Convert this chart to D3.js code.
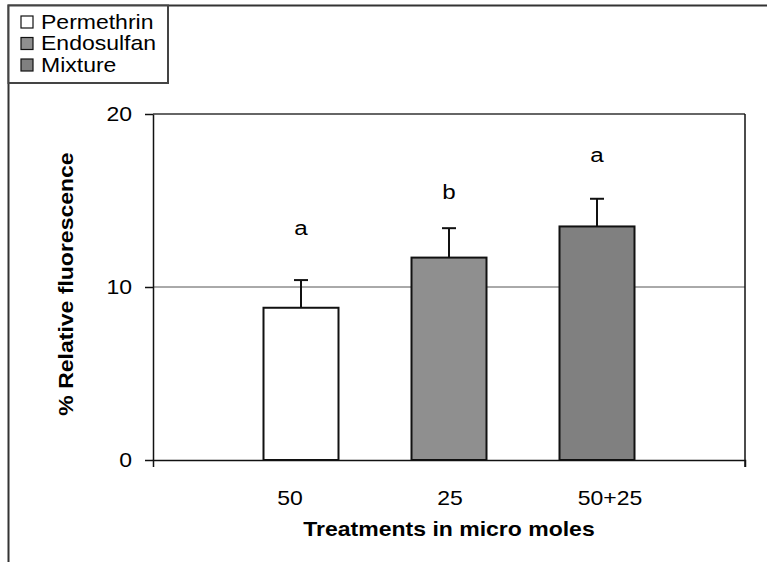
<!DOCTYPE html>
<html>
<head>
<meta charset="utf-8">
<script src="https://cdn.jsdelivr.net/npm/d3@7"></script>
<style>
  body { margin: 0; background: #fff; }
  svg { display: block; font-family: "Liberation Sans", Arial, sans-serif; }
</style>
</head>
<body>
<div class="vis-barchart"></div>
<script>
// data
const treatments = ['Permethrin', 'Endosulfan', 'Mixture'];
const doses = ['50', '25', '50+25'];
const means = [8.8, 11.7, 13.5];
const errors = [1.6, 1.7, 1.6];
const letters = ['a', 'b', 'a'];
const letterLevels = [13.0, 15.1, 17.2];
const yTicks = [0, 10, 20];

const W = 767, H = 562;
const sx = 1.15; // the original text is drawn a bit wide

const data = treatments.map((t, i) => ({
    name: t, dose: doses[i], mean: means[i], err: errors[i],
    letter: letters[i], level: letterLevels[i]
}));

const svg = d3.select('.vis-barchart').append('svg')
    .attr('width', W)
    .attr('height', H);

const color = d3.scaleOrdinal()
    .domain(treatments)
    .range(['#ffffff', '#8f8f8f', '#808080']);

// plot area
const plot = {left: 153, right: 745, top: 114, bottom: 460};

const x = d3.scalePoint()
    .domain(treatments)
    .range([plot.left, plot.right])
    .padding(1);

// dose labels sit on their own spacing under the bars
const xLab = d3.scalePoint()
    .domain(doses)
    .range([130, 770])
    .padding(1);

const y = d3.scaleLinear()
    .domain([0, 20])
    .range([plot.bottom, plot.top]);

const barW = 75;

// helper for horizontally stretched text
function wideText(sel, px, py, rot) {
    return sel.attr('x', 0).attr('y', 0)
        .attr('transform', `translate(${px},${py})` + (rot ? ` rotate(${rot})` : '') + ` scale(${sx},1)`);
}

// outer chart frame (top and left edges visible)
svg.append('path')
    .attr('d', `M8.5,${H}V5.5H${W}`)
    .attr('fill', 'none')
    .attr('stroke', '#333')
    .attr('stroke-width', 2);

// gridlines
svg.append('g')
    .selectAll('line')
    .data(yTicks.filter(d => d > 0))
    .join('line')
    .attr('x1', plot.left).attr('x2', plot.right)
    .attr('y1', d => y(d)).attr('y2', d => y(d))
    .attr('stroke', d => d === 20 ? '#333' : '#555')
    .attr('stroke-width', d => d === 20 ? 1.5 : 1);

// right border of the plot area
svg.append('line')
    .attr('x1', plot.right).attr('x2', plot.right)
    .attr('y1', y(20)).attr('y2', plot.bottom + 7)
    .attr('stroke', '#111')
    .attr('stroke-width', 1.5);

// bars
svg.selectAll('.bar')
    .data(data)
    .join('rect')
    .attr('class', 'bar')
    .attr('x', d => x(d.name) - barW / 2)
    .attr('width', barW)
    .attr('y', d => y(d.mean))
    .attr('height', d => y(0) - y(d.mean))
    .attr('fill', d => color(d.name))
    .attr('stroke', '#111')
    .attr('stroke-width', 2);

// error bars (upper half only)
const eb = svg.append('g').attr('stroke', '#111').attr('stroke-width', 2);
eb.selectAll('.stem')
    .data(data)
    .join('line')
    .attr('class', 'stem')
    .attr('x1', d => x(d.name)).attr('x2', d => x(d.name))
    .attr('y1', d => y(d.mean)).attr('y2', d => y(d.mean + d.err));
eb.selectAll('.cap')
    .data(data)
    .join('line')
    .attr('class', 'cap')
    .attr('x1', d => x(d.name) - 7).attr('x2', d => x(d.name) + 7)
    .attr('y1', d => y(d.mean + d.err)).attr('y2', d => y(d.mean + d.err));

// significance letters
svg.selectAll('.letter')
    .data(data)
    .join('text')
    .attr('class', 'letter')
    .attr('text-anchor', 'middle')
    .style('font-size', '21px')
    .text(d => d.letter)
    .each(function(d) { wideText(d3.select(this), x(d.name), y(d.level)); });

// x axis: only end ticks like the original
svg.append('g')
    .attr('transform', `translate(0,${plot.bottom})`)
    .call(d3.axisBottom(x).tickValues([]).tickSizeOuter(7))
    .call(g => g.select('.domain').attr('stroke', '#111').attr('stroke-width', 1.5));

// y axis
const yAxis = svg.append('g')
    .attr('transform', `translate(${plot.left},0)`)
    .call(d3.axisLeft(y).tickValues(yTicks).tickSize(8).tickSizeOuter(0).tickPadding(13));
yAxis.attr('font-family', null).attr('font-size', null);
yAxis.select('.domain').attr('stroke', '#111').attr('stroke-width', 1.5);
yAxis.selectAll('.tick line').attr('stroke', '#111').attr('stroke-width', 1.5);
yAxis.selectAll('.tick text')
    .style('font-size', '20px')
    .attr('fill', '#000')
    .attr('dy', null)
    .attr('dominant-baseline', 'central')
    .each(function() {
        const t = d3.select(this);
        const px = +t.attr('x');
        wideText(t, px, 0);
    });

// dose labels
svg.selectAll('.dose')
    .data(data)
    .join('text')
    .attr('class', 'dose')
    .attr('text-anchor', 'middle')
    .style('font-size', '20px')
    .text(d => d.dose)
    .each(function(d) { wideText(d3.select(this), xLab(d.dose), 505); });

// axis titles
svg.append('text')
    .attr('text-anchor', 'middle')
    .style('font-size', '20px')
    .style('font-weight', 'bold')
    .text('Treatments in micro moles')
    .call(wideText, (plot.left + plot.right) / 2, 536);

svg.append('text')
    .attr('text-anchor', 'middle')
    .style('font-size', '20px')
    .style('font-weight', 'bold')
    .text('% Relative fluorescence')
    .call(wideText, 73, 284, -90);

// legend
const legend = svg.append('g');
legend.append('rect')
    .attr('x', 8.5).attr('y', 5.5)
    .attr('width', 159.5).attr('height', 77.5)
    .attr('fill', '#fff')
    .attr('stroke', '#444')
    .attr('stroke-width', 2);
const items = legend.selectAll('.item')
    .data(treatments)
    .join('g')
    .attr('class', 'item')
    .attr('transform', (d, i) => `translate(0,${22 + i * 21.5})`);
items.append('rect')
    .attr('x', 21).attr('y', -6)
    .attr('width', 12).attr('height', 12)
    .attr('fill', d => color(d))
    .attr('stroke', '#111')
    .attr('stroke-width', 1.2);
items.append('text')
    .style('font-size', '20px')
    .text(d => d)
    .call(wideText, 41, 6.5);
</script>
</body>
</html>
